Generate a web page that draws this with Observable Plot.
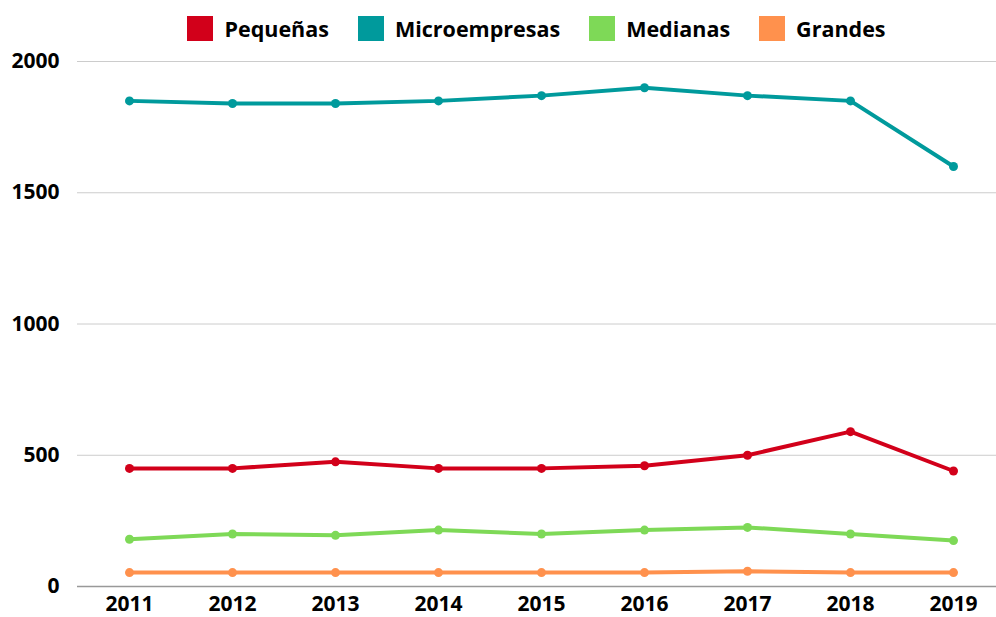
<!DOCTYPE html>
<html>
<head>
<meta charset="utf-8">
<script src="https://cdn.jsdelivr.net/npm/d3@7"></script>
<script src="https://cdn.jsdelivr.net/npm/@observablehq/plot@0.6"></script>
<style>
  body { margin: 0; background: #fff; font-family: "Open Sans", sans-serif; position: relative; }
  #legend { position: absolute; top: 0; left: 0; height: 57px; display: flex; align-items: center; justify-content: center; padding-left: 77px; box-sizing: border-box; width: 996px; gap: 29px; }
  .item { display: flex; align-items: center; gap: 11px; font-weight: 700; font-size: 21.5px; color: #000; }
  .sw { width: 26px; height: 25px; display: inline-block; }
</style>
</head>
<body>
<div id="chart"></div>
<div id="legend"></div>
<script>
const years = [2011, 2012, 2013, 2014, 2015, 2016, 2017, 2018, 2019];
const seriesNames = ["Pequeñas", "Microempresas", "Medianas", "Grandes"];
const colors = ["#d2001a", "#009a9c", "#7ed957", "#ff914d"];
const pequenas = [450, 450, 475, 450, 450, 460, 500, 590, 440];
const microempresas = [1850, 1840, 1840, 1850, 1870, 1900, 1870, 1850, 1600];
const medianas = [180, 200, 195, 215, 200, 215, 225, 200, 175];
const grandes = [53, 53, 53, 53, 53, 53, 58, 53, 53];
const yTicks = [0, 500, 1000, 1500, 2000];

const valuesBySeries = [pequenas, microempresas, medianas, grandes];
const data = [];
seriesNames.forEach((s, i) => years.forEach((y, j) => data.push({series: s, year: String(y), value: valuesBySeries[i][j]})));

const legend = document.getElementById("legend");
seriesNames.forEach((s, i) => {
  const it = document.createElement("div");
  it.className = "item";
  it.innerHTML = `<span class="sw" style="background:${colors[i]}"></span><span>${s}</span>`;
  legend.appendChild(it);
});

const chart = Plot.plot({
  width: 996,
  height: 617,
  marginLeft: 77,
  marginRight: 0,
  marginTop: 61,
  marginBottom: 31,
  style: { fontFamily: "Open Sans, sans-serif", fontSize: "21px", fontWeight: 700, color: "#000", background: "#fff" },
  x: { type: "point", domain: years.map(String), range: [128, 953], padding: 0 },
  y: { domain: [0, 2000] },
  color: { domain: seriesNames, range: colors },
  marks: [
    Plot.ruleY(yTicks.filter(d => d > 0), { stroke: "#cccccc", strokeWidth: 1 }),
    Plot.ruleY([0], { stroke: "#999999", strokeWidth: 1.5 }),
    Plot.axisY({ ticks: yTicks, tickSize: 0, tickPadding: 18, tickFormat: d3.format("d"), label: null, fill: "#000" }),
    Plot.axisX({ tickSize: 0, tickPadding: 10, label: null, fill: "#000" }),
    Plot.line(data, { x: "year", y: "value", z: "series", stroke: "series", strokeWidth: 4 }),
    Plot.dot(data, { x: "year", y: "value", fill: "series", r: 4.5 })
  ]
});
document.getElementById("chart").appendChild(chart);
</script>
</body>
</html>
